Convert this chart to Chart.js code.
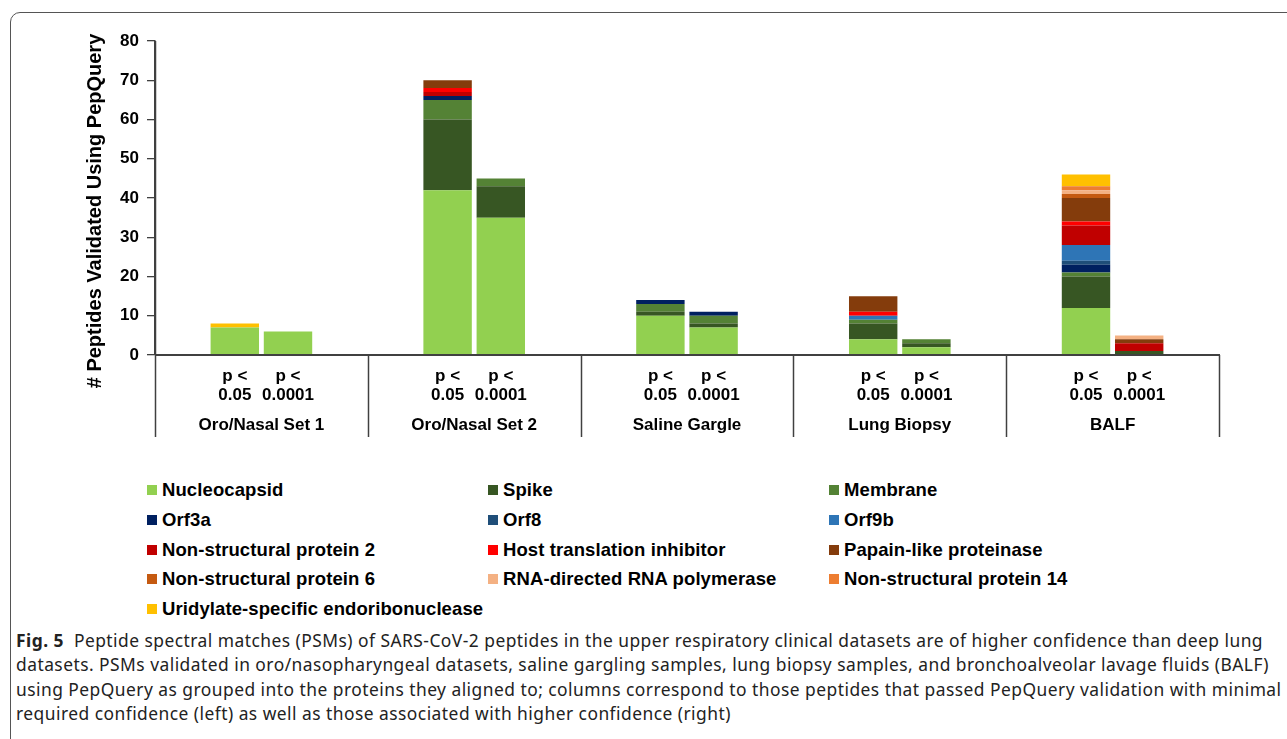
<!DOCTYPE html>
<html>
<head>
<meta charset="utf-8">
<script src="https://cdn.jsdelivr.net/npm/chart.js@4"></script>
<style>
    html, body { margin: 0; padding: 0; background: #fff; width: 1287px; height: 739px; overflow: hidden; }
    body { position: relative; font-family: 'Liberation Sans', Arial, sans-serif; }
    #frame { position: absolute; left: 10px; top: 12px; width: 1300px; height: 760px; border: 1px solid #555; border-radius: 10px; box-sizing: border-box; }
    #chart-wrap { position: absolute; left: 0; top: 0; width: 1287px; height: 450px; }
    #legend { position: absolute; left: 147px; top: 478px; }
    .lg-item { position: absolute; white-space: nowrap; font-weight: bold; font-size: 18.5px; letter-spacing: 0.1px; color: #000; line-height: 24px; }
    .lg-box { display: inline-block; width: 10px; height: 10px; margin-right: 5px; vertical-align: 1px; }
    #caption { position: absolute; left: 16px; top: 628px; font-family: 'Noto Sans', 'Open Sans', sans-serif; font-size: 17.4px; letter-spacing: 0.47px; color: #222; line-height: 24.4px; }
    #caption div { white-space: nowrap; }
</style>
</head>
<body>
<div id="frame"></div>
<div id="chart-wrap"><canvas id="chart-psm" width="1287" height="450"></canvas></div>
<div id="legend"></div>
<div id="caption">
    <div><b>Fig. 5</b>&nbsp; Peptide spectral matches (PSMs) of SARS-CoV-2 peptides in the upper respiratory clinical datasets are of higher confidence than deep lung</div>
    <div>datasets. PSMs validated in oro/nasopharyngeal datasets, saline gargling samples, lung biopsy samples, and bronchoalveolar lavage fluids (BALF)</div>
    <div>using PepQuery as grouped into the proteins they aligned to; columns correspond to those peptides that passed PepQuery validation with minimal</div>
    <div>required confidence (left) as well as those associated with higher confidence (right)</div>
</div>
<script>
// 데이터셋 그룹 / 신뢰도 구간
const groups = ['Oro/Nasal Set 1', 'Oro/Nasal Set 2', 'Saline Gargle', 'Lung Biopsy', 'BALF'];
const thresholds = ['0.05', '0.0001'];

// 단백질별 PSM 개수: [Set1 0.05, Set1 0.0001, Set2 0.05, Set2 0.0001, Gargle 0.05, Gargle 0.0001, Lung 0.05, Lung 0.0001, BALF 0.05, BALF 0.0001]
const nucleocapsid = [7, 6, 42, 35, 10, 7, 4, 2, 12, 0];
const spike        = [0, 0, 18, 8, 1, 1, 4, 1, 8, 1];
const membrane     = [0, 0, 5, 2, 2, 2, 1, 1, 1, 0];
const orf3a        = [0, 0, 1, 0, 1, 1, 0, 0, 2, 0];
const orf8         = [0, 0, 0, 0, 0, 0, 0, 0, 1, 0];
const orf9b        = [0, 0, 0, 0, 0, 0, 1, 0, 4, 0];
const nsp2         = [0, 0, 1, 0, 0, 0, 0, 0, 5, 2];
const hostInhib    = [0, 0, 1, 0, 0, 0, 1, 0, 1, 0];
const papainLike   = [0, 0, 2, 0, 0, 0, 4, 0, 6, 1];
const nsp6         = [0, 0, 0, 0, 0, 0, 0, 0, 1, 0];
const rdrp         = [0, 0, 0, 0, 0, 0, 0, 0, 1, 1];
const nsp14        = [0, 0, 0, 0, 0, 0, 0, 0, 1, 0];
const uridylate    = [1, 0, 0, 0, 0, 0, 0, 0, 3, 0];

const yTicks = [0, 10, 20, 30, 40, 50, 60, 70, 80];

// 스택 순서 (아래 -> 위)
const proteinNames = [
    'Nucleocapsid', 'Spike', 'Membrane',
    'Orf3a', 'Orf8', 'Orf9b',
    'Non-structural protein 2', 'Host translation inhibitor', 'Papain-like proteinase',
    'Non-structural protein 6', 'RNA-directed RNA polymerase', 'Non-structural protein 14',
    'Uridylate-specific endoribonuclease'
];
const proteinValues = [nucleocapsid, spike, membrane, orf3a, orf8, orf9b, nsp2, hostInhib, papainLike, nsp6, rdrp, nsp14, uridylate];
const proteinColors = [
    '#92D050', '#375623', '#548235',
    '#002060', '#1F4E79', '#2E75B6',
    '#C00000', '#FF0000', '#843C0C',
    '#C55A11', '#F4B183', '#ED7D31',
    '#FFC000'
];

const FONT = "'Liberation Sans', Arial, sans-serif";

// 각 단백질을 두 개의 스택(p<0.05 / p<0.0001)으로 분리
const datasets = [];
proteinNames.forEach((name, i) => {
    const vals = proteinValues[i];
    datasets.push({
        label: name,
        data: vals.filter((_, k) => k % 2 === 0),
        backgroundColor: proteinColors[i],
        stack: 'lo',
        barPercentage: 0.91,
        categoryPercentage: 0.5
    });
    datasets.push({
        label: name,
        data: vals.filter((_, k) => k % 2 === 1),
        backgroundColor: proteinColors[i],
        stack: 'hi',
        barPercentage: 0.91,
        categoryPercentage: 0.5
    });
});

// 하단 카테고리 영역(구분선, p값, 그룹명)과 Y축 제목
const axisDecor = {
    id: 'axisDecor',
    afterDatasetsDraw(chart) {
        const { ctx, chartArea, scales } = chart;
        const xs = scales.x;
        const bottom = chartArea.bottom;
        const step = xs.width / groups.length;
        ctx.save();

        // 그룹 구분선
        ctx.strokeStyle = '#404040';
        ctx.lineWidth = 1.5;
        for (let i = 0; i <= groups.length; i++) {
            const x = Math.round(xs.left + step * i) + 0.5;
            ctx.beginPath();
            ctx.moveTo(x, i === 0 ? chartArea.top : bottom);
            ctx.lineTo(x, 437);
            ctx.stroke();
        }

        // X축 기준선
        ctx.lineWidth = 2.2;
        ctx.beginPath();
        ctx.moveTo(xs.left, bottom);
        ctx.lineTo(xs.right + 1, bottom);
        ctx.stroke();

        // 막대별 p값 라벨
        ctx.fillStyle = '#000';
        ctx.font = `bold 17px ${FONT}`;
        ctx.textAlign = 'center';
        ctx.textBaseline = 'middle';
        const loMeta = chart.getDatasetMeta(0);
        const hiMeta = chart.getDatasetMeta(1);
        groups.forEach((g, i) => {
            [loMeta, hiMeta].forEach((meta, t) => {
                const x = meta.data[i].x;
                ctx.fillText('p <', x, 376);
                ctx.fillText(thresholds[t], x, 395);
            });
            ctx.fillText(g, xs.getPixelForValue(i), 425);
        });

        // Y축 제목
        ctx.translate(95, 211);
        ctx.rotate(-Math.PI / 2);
        ctx.font = `bold 20px ${FONT}`;
        ctx.fillText('# Peptides Validated Using PepQuery', 0, 0);
        ctx.restore();
    }
};

const ctx = document.getElementById('chart-psm');
new Chart(ctx, {
    type: 'bar',
    data: { labels: groups, datasets },
    options: {
        responsive: false,
        animation: false,
        layout: { padding: { left: 0, top: 41, right: 68, bottom: 95 } },
        plugins: { legend: { display: false }, tooltip: { enabled: false } },
        scales: {
            x: {
                stacked: true,
                display: false
            },
            y: {
                stacked: true,
                min: 0,
                max: 80,
                afterBuildTicks(scale) { scale.ticks = yTicks.map(v => ({ value: v })); },
                afterFit(scale) { scale.width = 155; },
                ticks: { color: '#000', padding: 8, font: { family: FONT, size: 17, weight: 'bold' } },
                grid: { drawOnChartArea: false, drawTicks: true, tickLength: 8, color: '#404040', lineWidth: 1.3 },
                border: { display: true, color: '#404040', width: 1.5 }
            }
        }
    },
    plugins: [axisDecor]
});

// 범례 (3열)
const legendEl = document.getElementById('legend');
const colX = [0, 341, 682];
proteinNames.forEach((name, i) => {
    const item = document.createElement('div');
    item.className = 'lg-item';
    item.style.left = colX[i % 3] + 'px';
    item.style.top = (Math.floor(i / 3) * 29.8) + 'px';
    item.innerHTML = `<span class="lg-box" style="background:${proteinColors[i]}"></span>${name}`;
    legendEl.appendChild(item);
});
</script>
</body>
</html>
